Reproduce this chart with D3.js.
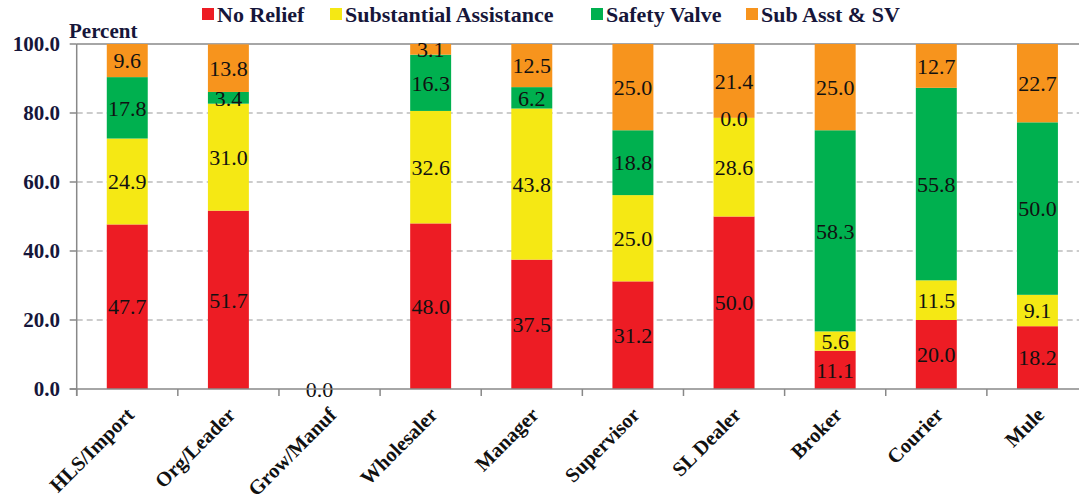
<!DOCTYPE html>
<html>
<head>
<meta charset="utf-8">
<script src="https://cdn.jsdelivr.net/npm/d3@7"></script>
<style>
  body { margin: 0; background: #fff; }
</style>
</head>
<body>
<div id="chart"></div>
<script>
// categories and the four series (percent)
const categories = ["HLS/Import", "Org/Leader", "Grow/Manuf", "Wholesaler", "Manager",
                    "Supervisor", "SL Dealer", "Broker", "Courier", "Mule"];
const noRelief     = [47.7, 51.7, 0.0, 48.0, 37.5, 31.2, 50.0, 11.1, 20.0, 18.2];
const subAssist    = [24.9, 31.0, null, 32.6, 43.8, 25.0, 28.6, 5.6, 11.5, 9.1];
const safetyValve  = [17.8, 3.4, null, 16.3, 6.2, 18.8, 0.0, 58.3, 55.8, 50.0];
const subAsstSV    = [9.6, 13.8, null, 3.1, 12.5, 25.0, 21.4, 25.0, 12.7, 22.7];
const seriesNames  = ["No Relief", "Substantial Assistance", "Safety Valve", "Sub Asst & SV"];
const yTicks       = [0, 20, 40, 60, 80, 100];

const colors = ["#ed1c24", "#f5e814", "#00b04f", "#f7941d"];
const seriesValues = [noRelief, subAssist, safetyValve, subAsstSV];

const width = 1079, height = 502;
const marginLeft = 76.7, plotRight = 1088, plotTop = 44, plotBottom = 389;
const font = 'Liberation Serif';

const svg = d3.select('#chart')
  .append('svg')
    .attr('width', width)
    .attr('height', height);

// scales
const x = d3.scaleBand()
  .domain(categories)
  .range([marginLeft, plotRight])
  .paddingInner(0.595)
  .paddingOuter(0.2975);

const y = d3.scaleLinear()
  .domain([0, 100])
  .range([plotBottom, plotTop]);

// grid lines
svg.selectAll('.grid')
  .data(yTicks.filter(d => d > 0 && d < 100))
  .join('line')
    .attr('x1', marginLeft).attr('x2', plotRight)
    .attr('y1', d => y(d)).attr('y2', d => y(d))
    .attr('stroke', '#999')
    .attr('stroke-width', 1.2)
    .attr('stroke-dasharray', '6,4');

// top border
svg.append('line')
  .attr('x1', marginLeft).attr('x2', plotRight)
  .attr('y1', y(100)).attr('y2', y(100))
  .attr('stroke', '#888').attr('stroke-width', 1.5);

// stacked data
const stackRows = categories.map((c, i) => {
  let base = 0;
  return seriesValues.map((vals, s) => {
    const v = vals[i];
    const seg = { cat: c, s: s, v: v, y0: base, y1: base + (v || 0) };
    base += v || 0;
    return seg;
  });
}).flat();

// bars
svg.selectAll('rect.bar')
  .data(stackRows.filter(d => d.v))
  .join('rect')
    .attr('class', 'bar')
    .attr('x', d => x(d.cat))
    .attr('width', x.bandwidth())
    .attr('y', d => y(d.y1))
    .attr('height', d => y(d.y0) - y(d.y1))
    .attr('fill', d => colors[d.s]);

// value labels
svg.selectAll('.value')
  .data(stackRows.filter(d => d.v !== null))
  .join('text')
    .attr('class', 'value')
    .attr('x', d => x(d.cat) + x.bandwidth() / 2 - (d.v === 0 && d.s === 0 ? 10 : 0))
    .attr('y', d => y((d.y0 + d.y1) / 2))
    .attr('dy', '0.35em')
    .attr('text-anchor', 'middle')
    .attr('font-family', font)
    .attr('font-size', 22)
    .attr('fill', '#111')
    .text(d => d.v.toFixed(1));

// axes
svg.append('line')
  .attr('x1', marginLeft).attr('x2', marginLeft)
  .attr('y1', y(100)).attr('y2', y(0) + 7)
  .attr('stroke', '#888').attr('stroke-width', 1.5);
svg.append('line')
  .attr('x1', marginLeft - 7).attr('x2', plotRight)
  .attr('y1', y(0)).attr('y2', y(0))
  .attr('stroke', '#888').attr('stroke-width', 1.5);

svg.selectAll('.ytick')
  .data(yTicks)
  .join('line')
    .attr('x1', marginLeft - 7).attr('x2', marginLeft)
    .attr('y1', d => y(d)).attr('y2', d => y(d))
    .attr('stroke', '#888').attr('stroke-width', 1.5);

svg.selectAll('.xtick')
  .data(categories)
  .join('line')
    .attr('x1', d => x(d) - x.step() * x.paddingOuter())
    .attr('x2', d => x(d) - x.step() * x.paddingOuter())
    .attr('y1', y(0)).attr('y2', y(0) + 7)
    .attr('stroke', '#888').attr('stroke-width', 1.5);

svg.selectAll('.ylabel')
  .data(yTicks)
  .join('text')
    .attr('class', 'ylabel')
    .attr('x', 60)
    .attr('y', d => y(d))
    .attr('dy', '0.35em')
    .attr('text-anchor', 'end')
    .attr('font-family', font)
    .attr('font-size', 21)
    .attr('font-weight', 'bold')
    .attr('fill', '#16163a')
    .text(d => d.toFixed(1));

svg.append('text')
  .attr('x', 69).attr('y', 38)
  .attr('font-family', font)
  .attr('font-size', 21)
  .attr('font-weight', 'bold')
  .attr('fill', '#16163a')
  .text('Percent');

// x labels, rotated
svg.selectAll('.xlabel')
  .data(categories)
  .join('text')
    .attr('class', 'xlabel')
    .attr('transform', d => `translate(${x(d) + x.bandwidth() / 2 + 3},${y(0) + 22}) rotate(-45)`)
    .attr('text-anchor', 'end')
    .attr('dy', '0.35em')
    .attr('font-family', font)
    .attr('font-size', 20.5)
    .attr('font-weight', 'bold')
    .attr('fill', '#111')
    .text(d => d);

// legend
const legendX = [202, 330, 591, 746];
const legend = svg.selectAll('.legend')
  .data(seriesNames)
  .join('g')
    .attr('transform', (d, i) => `translate(${legendX[i]},8)`);
legend.append('rect')
  .attr('width', 12).attr('height', 12)
  .attr('fill', (d, i) => colors[i]);
legend.append('text')
  .attr('x', 15).attr('y', 6)
  .attr('dy', '0.35em')
  .attr('font-family', font)
  .attr('font-size', 22)
  .attr('font-weight', 'bold')
  .attr('fill', '#16163a')
  .text(d => d);
</script>
</body>
</html>
